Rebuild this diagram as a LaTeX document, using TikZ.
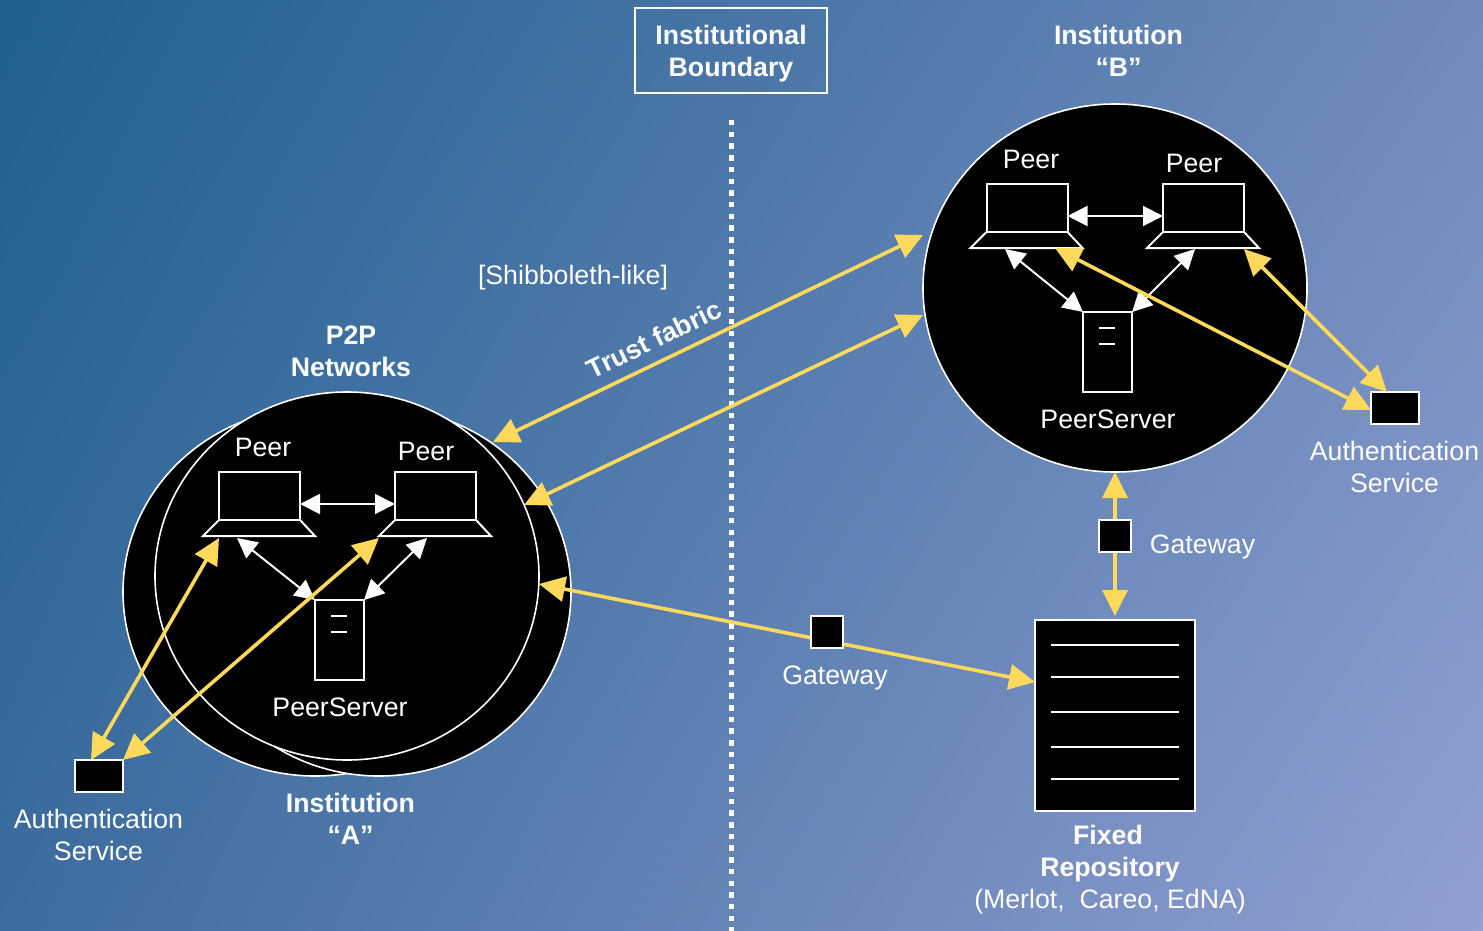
\documentclass[tikz,border=0pt]{standalone}
\usepackage{fontspec}
\setmainfont{Liberation Sans}
\usetikzlibrary{arrows.meta,shapes.geometric,shadings}
\definecolor{tl}{HTML}{1F6090}
\definecolor{tr}{HTML}{6F8ABB}
\definecolor{bl}{HTML}{3D6C9E}
\definecolor{br}{HTML}{929FD2}
\definecolor{gold}{HTML}{FFD95C}
\tikzset{
  x=1pt,y=-1pt,
  txt/.style={text=white,font=\fontsize{26.7}{32}\selectfont,align=center,inner sep=0,outer sep=0},
  btxt/.style={txt,font=\fontsize{26.7}{32}\selectfont\bfseries},
  blob/.style={ellipse,draw=white,fill=black,line width=1.6pt,minimum width=384pt,minimum height=368pt,inner sep=0,outer sep=0},
  box/.style={rectangle,draw=white,fill=black,line width=2pt,inner sep=0,outer sep=0},
  screen/.style={box,minimum width=81pt,minimum height=48pt},
  kbd/.style={draw=white,line width=2pt,line join=miter},
  server/.style={box,minimum width=49pt,minimum height=80pt},
  auth/.style={box,minimum width=48pt,minimum height=32pt},
  gate/.style={box,minimum width=32pt,minimum height=32pt},
  wlink/.style={draw=white,line width=2pt,{Triangle[length=20pt,width=20pt,fill=white]}-{Triangle[length=20pt,width=20pt,fill=white]}},
  ylink/.style={draw=gold,line width=3.6pt,{Triangle[length=26pt,width=25pt,fill=gold]}-{Triangle[length=26pt,width=25pt,fill=gold]}},
  thin/.style={draw=white,line width=2pt},
}
\begin{document}
\begin{tikzpicture}
\useasboundingbox (0,0) rectangle (1483,931);
\shade[upper left=tl,upper right=tr,lower left=bl,lower right=br] (0,0) rectangle (1483,931);
% boundary
\node[rectangle,draw=white,line width=2pt,minimum width=192pt,minimum height=85pt,inner sep=0] (bnd) at (731,50.5) {};
\node[btxt] (bndt) at (731,54) {Institutional\\Boundary};
\coordinate (dtop) at (731.5,120);
\coordinate (dbot) at (731.5,931);
\draw[white,line width=5.5pt,dash pattern=on 5.5pt off 6.2pt] (dtop) -- (dbot);
% institution A
\node[blob] (ea) at (315,592) {};
\node[blob] (eb) at (379,592) {};
\node[blob] (ec) at (347,576) {};
\node[screen] (s1) at (259.5,496) {};
\draw[kbd] (s1.south west) -- ++(-16,16) -- ++(112,0) -- (s1.south east);
\node[screen] (s2) at (435.5,496) {};
\draw[kbd] (s2.south west) -- ++(-16,16) -- ++(112,0) -- (s2.south east);
\node[server] (srva) at (339.5,640) {};
\coordinate (d1a) at (331,616); \coordinate (d1b) at (347,616);
\coordinate (d2a) at (331,632); \coordinate (d2b) at (347,632);
\draw[thin] (d1a) -- (d1b); \draw[thin] (d2a) -- (d2b);
\node[txt] (p1) at (263,447) {Peer};
\node[txt] (p2) at (426,451) {Peer};
\node[txt] (ps) at (340,707) {PeerServer};
\coordinate (t1) at (237,538);
\coordinate (t2) at (427,538);
\draw[wlink] ([yshift=-8pt]s1.east) -- ([yshift=-8pt]s2.west);
\draw[wlink] (t1) -- (srva.north west);
\draw[wlink] (t2) -- (srva.north east);
% institution B
\node[blob] (ed) at (1115,288) {};
\node[screen] (s3) at (1027,208) {};
\draw[kbd] (s3.south west) -- ++(-16,16) -- ++(112,0) -- (s3.south east);
\node[screen] (s4) at (1203.5,208) {};
\draw[kbd] (s4.south west) -- ++(-16,16) -- ++(112,0) -- (s4.south east);
\node[server] (srvb) at (1107.5,352) {};
\coordinate (d3a) at (1099,328); \coordinate (d3b) at (1115,328);
\coordinate (d4a) at (1099,344); \coordinate (d4b) at (1115,344);
\draw[thin] (d3a) -- (d3b); \draw[thin] (d4a) -- (d4b);
\node[txt] (p3) at (1031,159) {Peer};
\node[txt] (p4) at (1194,163) {Peer};
\node[txt] (pt) at (1108,419) {PeerServer};
\coordinate (t3) at (1005,249);
\coordinate (t4) at (1195,249);
\draw[wlink] ([yshift=-8pt]s3.east) -- ([yshift=-8pt]s4.west);
\draw[wlink] (t3) -- (srvb.north west);
\draw[wlink] (t4) -- (srvb.north east);
% other boxes
\node[auth] (aa) at (99,776) {};
\node[auth] (ab) at (1395,408) {};
\node[rectangle,draw=white,fill=black,line width=2pt,minimum width=160pt,minimum height=191pt,inner sep=0,outer sep=0] (repo) at (1115,715.5) {};
\foreach \yy/\nm in {645/a,677/b,712/c,747/d,779/e}{
  \coordinate (l\nm) at (1051,\yy); \coordinate (r\nm) at (1179,\yy);
  \draw[thin] (l\nm) -- (r\nm);
}
% yellow links
\coordinate (y1) at (219,538);
\coordinate (y1b) at (91,760);
\coordinate (y2) at (379,538);
\coordinate (y3) at (1055,248);
\coordinate (y4) at (1244,249);
\coordinate (y4b) at (1387,392);
\coordinate (y3b) at (1371,410);
\coordinate (b1) at (923,235);
\coordinate (a1) at (493,442);
\coordinate (b2) at (923,315);
\coordinate (a2) at (524,505);
\coordinate (a3) at (539,584);
\coordinate (r3) at (1035,682);
\draw[ylink] (y1) -- (y1b);
\draw[ylink] (y2) -- (aa.north east);
\draw[ylink] (y3) -- (y3b);
\draw[ylink] (y4) -- (y4b);
\draw[ylink] (b1) -- (a1);
\draw[ylink] (b2) -- (a2);
\draw[ylink] (a3) -- (r3);
\draw[ylink] (ed.south) -- ([yshift=4pt]repo.north);
\node[gate] (g1) at (827,632) {};
\node[gate] (g2) at (1115,536) {};
% labels
\node[btxt] (lb) at (1118.5,51) {Institution\\“B”};
\node[btxt] (la) at (350.5,819) {Institution\\“A”};
\node[btxt] (lp) at (351,351) {P2P\\Networks};
\node[txt] (ls) at (573,278) {[Shibboleth-like]};
\node[btxt,rotate=26] (lt) at (654,339) {Trust fabric};
\node[txt] (gl1) at (835,678) {Gateway};
\node[txt] (gl2) at (1202.5,547) {Gateway};
\node[txt] (as1) at (98.5,835) {Authentication\\Service};
\node[txt] (as2) at (1394.5,467) {Authentication\\Service};
\node[txt] (rp) at (1110,870) {\textbf{Fixed}\hspace*{4pt}\\\textbf{Repository}\hspace*{8pt}\\(Merlot,~ Careo, EdNA)};
\end{tikzpicture}
\end{document}
